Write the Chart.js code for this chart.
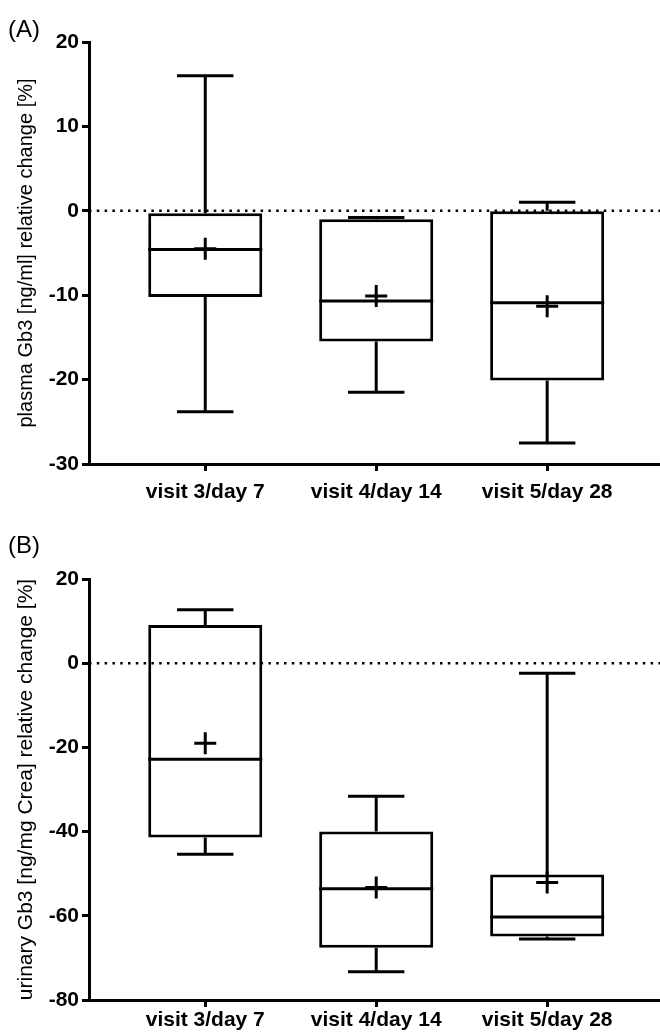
<!DOCTYPE html>
<html>
<head>
<meta charset="utf-8">
<script src="https://cdn.jsdelivr.net/npm/chart.js@4.4.1/dist/chart.umd.min.js"></script>
<style>
  body { margin: 0; background: #fff; width: 660px; height: 1036px; position: relative; overflow: hidden; }
  canvas { position: absolute; left: 0; }
  .panel-label { position: absolute; left: 8px; font-family: "Liberation Sans", Arial, sans-serif; font-size: 24px; line-height: 24px; color: #000; z-index: 2; }
</style>
</head>
<body>
<canvas id="plasmaChart" width="660" height="518" style="top:0"></canvas>
<canvas id="urinaryChart" width="660" height="518" style="top:518px"></canvas>
<div class="panel-label" style="top:17px">(A)</div>
<div class="panel-label" style="top:533px">(B)</div>
<script>
// Categories (x axis)
const categories = ['visit 3/day 7', 'visit 4/day 14', 'visit 5/day 28'];

// (A) plasma Gb3 relative change [%]
const plasmaMin    = [-23.8, -21.5, -27.5];
const plasmaQ1     = [-10.2, -15.5, -20.1];
const plasmaMedian = [-4.6, -10.7, -10.9];
const plasmaQ3     = [-0.3, -1.0, 0.0];
const plasmaMax    = [16.0, -0.8, 1.0];
const plasmaMean   = [-4.5, -10.1, -11.3];
const plasmaTicks  = [20, 10, 0, -10, -20, -30];

// (B) urinary Gb3 relative change [%]
const urinaryMin    = [-45.4, -73.3, -65.5];
const urinaryQ1     = [-41.4, -67.6, -64.9];
const urinaryMedian = [-22.8, -53.6, -60.3];
const urinaryQ3     = [9.1, -40.0, -50.2];
const urinaryMax    = [12.7, -31.6, -2.4];
const urinaryMean   = [-19.0, -53.3, -52.1];
const urinaryTicks  = [20, 0, -20, -40, -60, -80];

// layout / style
const xMin = -0.68, xMax = 2.66;
const boxPct = 0.667;   // box width as share of category spacing
const capHalf = 0.165;  // half width of whisker caps
const black = '#000';
const fontFamily = '"Liberation Sans", Arial, Helvetica, sans-serif';
const canvasH = 518;

// turn a list of [p1, p2] pairs into one line with gaps between the pairs
function segments(pairs) {
    const pts = [];
    pairs.forEach(([a, b]) => { pts.push(a, b, { x: a.x, y: null }); });
    return pts;
}

function drawPanel(canvasId, s, yTicks, yTitle, p) {
    const idx = categories.map((c, i) => i);

    const whiskers = segments(idx.flatMap(i => [
        [{ x: i, y: s.max[i] }, { x: i, y: s.q3[i] }],
        [{ x: i, y: s.q1[i] }, { x: i, y: s.min[i] }],
        [{ x: i - capHalf, y: s.max[i] }, { x: i + capHalf, y: s.max[i] }],
        [{ x: i - capHalf, y: s.min[i] }, { x: i + capHalf, y: s.min[i] }]
    ]));
    const medians = segments(idx.map(i => [
        { x: i - boxPct / 2, y: s.median[i] }, { x: i + boxPct / 2, y: s.median[i] }
    ]));

    const lineStyle = {
        type: 'line', borderColor: black, borderWidth: 3, pointRadius: 0,
        spanGaps: false, fill: false, borderCapStyle: 'butt'
    };
    const axisBorder = { display: true, color: black, width: 3 };

    return new Chart(document.getElementById(canvasId), {
        type: 'bar',
        data: {
            datasets: [
                {
                    label: 'mean', type: 'line', showLine: false,
                    data: idx.map(i => ({ x: i, y: s.mean[i] })),
                    pointStyle: 'cross', pointRadius: 11, pointBorderWidth: 3,
                    borderColor: black, order: 1
                },
                { ...lineStyle, label: 'median', data: medians, order: 2 },
                { ...lineStyle, label: 'whiskers', data: whiskers, order: 3 },
                {
                    ...lineStyle, label: 'zero', borderWidth: 2.5, borderDash: [2.5, 5.3],
                    data: [{ x: xMin, y: 0 }, { x: xMax, y: 0 }], order: 4
                },
                {
                    label: 'box',
                    data: idx.map(i => ({ x: i, y: [s.q1[i], s.q3[i]] })),
                    backgroundColor: '#fff', borderColor: black, borderWidth: 3,
                    borderSkipped: false, categoryPercentage: 1, barPercentage: boxPct,
                    order: 5
                }
            ]
        },
        options: {
            responsive: false,
            animation: false,
            devicePixelRatio: 1,
            layout: { autoPadding: false, padding: { top: p.top, right: 0, bottom: 0, left: 0 } },
            plugins: { legend: { display: false }, tooltip: { enabled: false } },
            scales: {
                x: {
                    type: 'linear', min: xMin, max: xMax, offset: false,
                    afterBuildTicks: axis => { axis.ticks = idx.map(i => ({ value: i })); },
                    afterFit: axis => {
                        axis.height = canvasH - p.bottom;
                        axis.paddingLeft = 0;
                        axis.paddingRight = 0;
                    },
                    ticks: {
                        callback: (v, i) => categories[i],
                        color: black, font: { family: fontFamily, size: 21, weight: 'bold' },
                        padding: p.labelPad, maxRotation: 0, autoSkip: false
                    },
                    grid: { offset: false, drawOnChartArea: false, drawTicks: true, tickLength: 7, tickWidth: 3, tickColor: black },
                    border: axisBorder
                },
                y: {
                    min: yTicks[yTicks.length - 1], max: yTicks[0],
                    afterBuildTicks: axis => { axis.ticks = yTicks.map(v => ({ value: v })); },
                    afterFit: axis => { axis.width = 89; },
                    ticks: { color: black, font: { family: fontFamily, size: 21, weight: 'bold' }, padding: 3 },
                    grid: { drawOnChartArea: false, drawTicks: true, tickLength: 7, tickWidth: 3, tickColor: black },
                    border: axisBorder,
                    title: {
                        display: true, text: yTitle, color: black,
                        font: { family: fontFamily, size: p.titleSize }, padding: { top: 14, bottom: 0 }
                    }
                }
            }
        }
    });
}

drawPanel('plasmaChart', {
    min: plasmaMin, q1: plasmaQ1, median: plasmaMedian, q3: plasmaQ3, max: plasmaMax, mean: plasmaMean
}, plasmaTicks, 'plasma Gb3 [ng/ml] relative change [%]', { top: 42, bottom: 464, labelPad: 9, titleSize: 20 });

drawPanel('urinaryChart', {
    min: urinaryMin, q1: urinaryQ1, median: urinaryMedian, q3: urinaryQ3, max: urinaryMax, mean: urinaryMean
}, urinaryTicks, 'urinary Gb3 [ng/mg Crea] relative change [%]', { top: 61, bottom: 482, labelPad: 1, titleSize: 21 });
</script>
</body>
</html>
